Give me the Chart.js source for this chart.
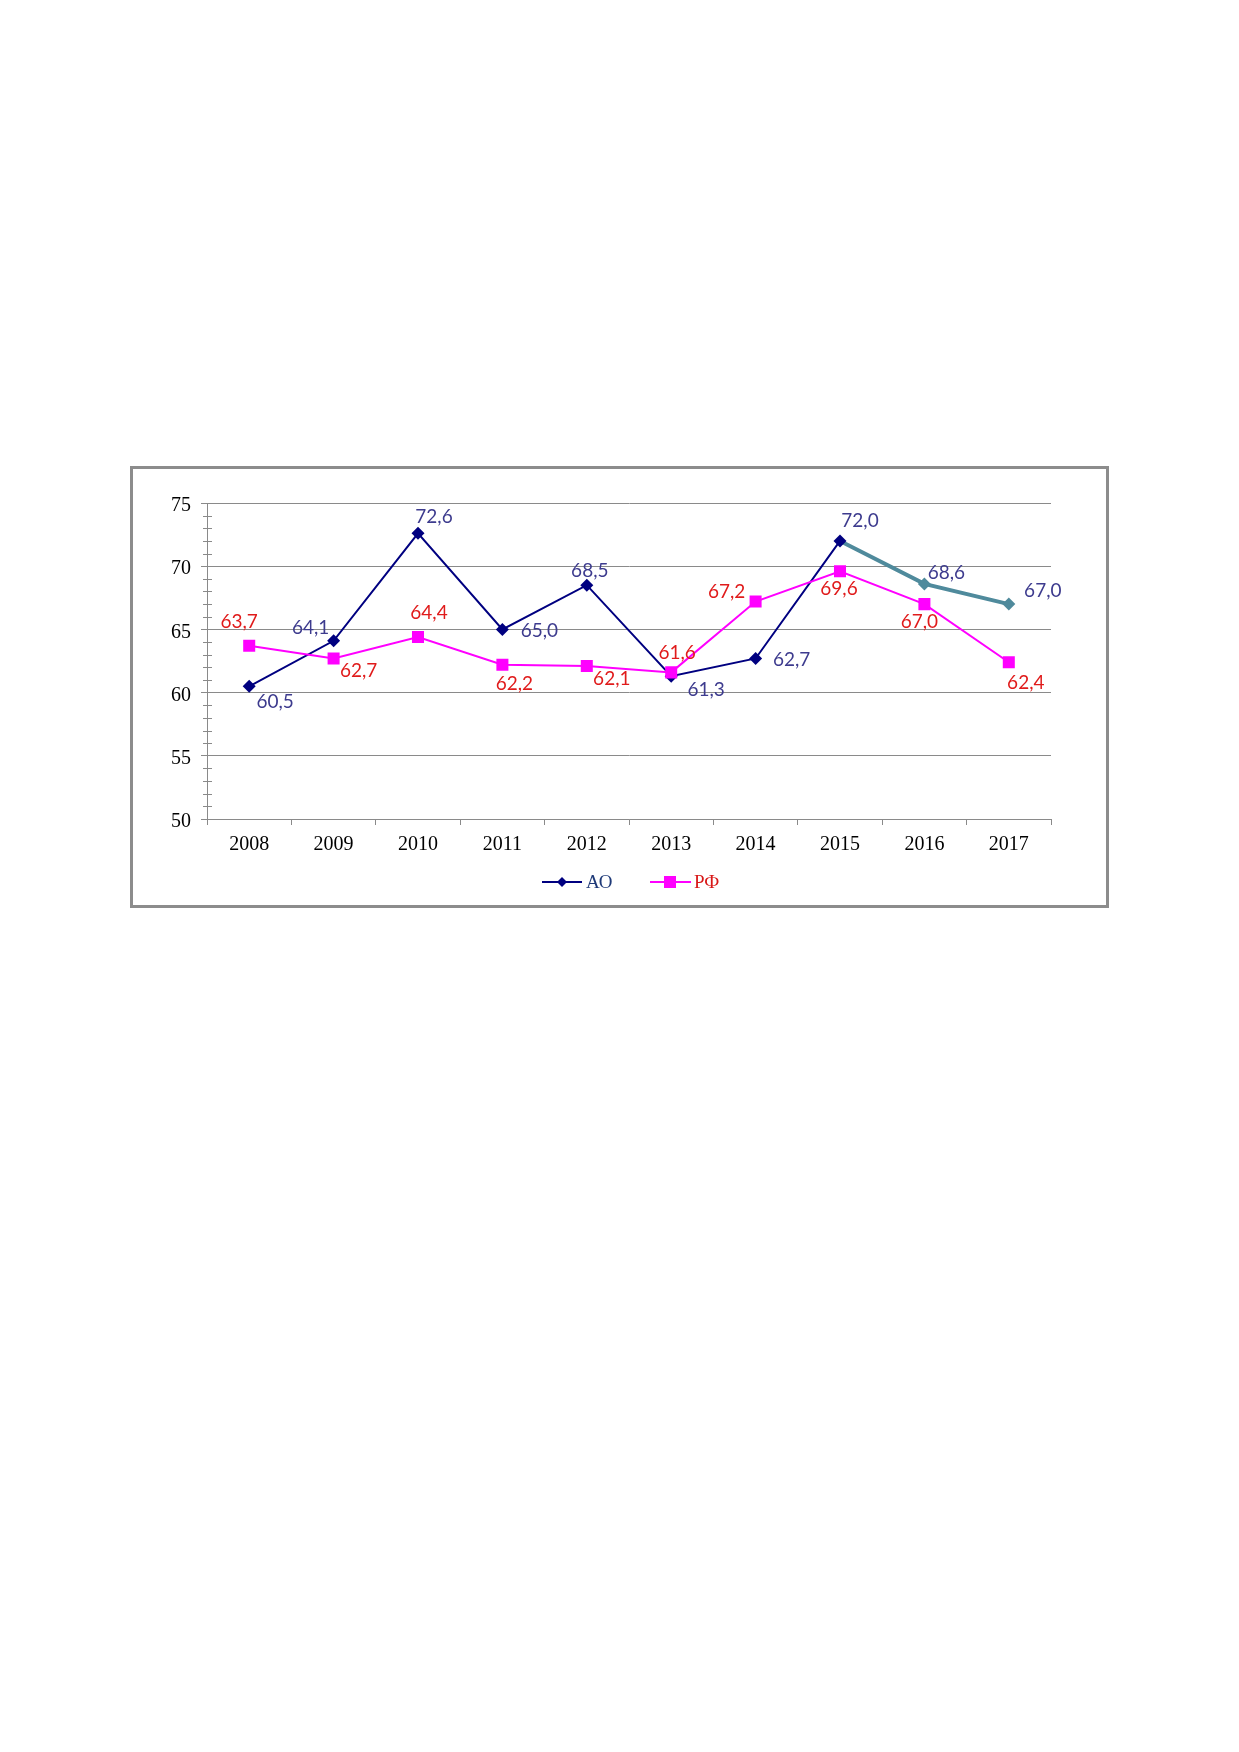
<!DOCTYPE html>
<html>
<head>
<meta charset="utf-8">
<script src="https://cdn.jsdelivr.net/npm/chart.js@4"></script>
<style>
  html, body { margin: 0; padding: 0; background: #fff; }
  body { width: 1239px; height: 1752px; position: relative; }
  #frame {
    position: absolute; left: 130px; top: 466px;
    width: 979px; height: 442px; box-sizing: border-box;
    border: 3px solid #8c8c8c;
  }
  #myChart { position: absolute; left: 131px; top: 467px; }
</style>
</head>
<body>
<div id="frame"></div>
<canvas id="myChart" width="976" height="439"></canvas>
<script>
let years = ['2008', '2009', '2010', '2011', '2012', '2013', '2014', '2015', '2016', '2017'];
let aoValues = [60.5, 64.1, 72.6, 65.0, 68.5, 61.3, 62.7, 72.0, 68.6, 67.0];
let rfValues = [63.7, 62.7, 64.4, 62.2, 62.1, 61.6, 67.2, 69.6, 67.0, 62.4];
let yTicks = [50, 55, 60, 65, 70, 75];

// where each value label sits relative to its point
let aoLabelShift = [[26, 16], [-23, -13], [16, -16], [37, 1], [3, -14], [35, 14], [36, 1], [20, -20], [22, -11], [34, -13]];
let rfLabelShift = [[-10, -24], [25, 12], [11, -24], [12, 19], [25, 13], [6, -20], [-29, -10], [-1, 18], [-5, 18], [17, 21]];

let navy = '#000080';
let teal = '#4f8a9c';
let magenta = '#ff00ff';
let gridGray = '#8a8a8a';

let fmt = (v) => v.toFixed(1).replace('.', ',');

let valueLabels = {
    id: 'valueLabels',
    afterDatasetsDraw(chart) {
        let ctx = chart.ctx;
        ctx.save();
        ctx.font = '19px Lato, "Liberation Sans", sans-serif';
        ctx.textAlign = 'center';
        ctx.textBaseline = 'middle';
        chart.data.datasets.forEach((ds, di) => {
            let meta = chart.getDatasetMeta(di);
            let shift = ds.label === 'АО' ? aoLabelShift : rfLabelShift;
            ctx.fillStyle = ds.label === 'АО' ? '#3d3b8e' : '#e01b1b';
            meta.data.forEach((pt, i) => {
                ctx.fillText(fmt(ds.data[i]), pt.x + shift[i][0], pt.y + shift[i][1]);
            });
        });
        ctx.restore();
    }
};

let minorTicks = {
    id: 'minorTicks',
    afterDraw(chart) {
        let y = chart.scales.y;
        let ctx = chart.ctx;
        let x0 = chart.chartArea.left;
        ctx.save();
        ctx.strokeStyle = gridGray;
        ctx.lineWidth = 1;
        for (let v = y.min; v <= y.max; v++) {
            if (v % 5 === 0) continue;
            let py = Math.round(y.getPixelForValue(v)) + 0.5;
            ctx.beginPath();
            ctx.moveTo(x0 - 4, py);
            ctx.lineTo(x0 + 5, py);
            ctx.stroke();
        }
        ctx.restore();
    }
};

let bottomLegend = {
    id: 'bottomLegend',
    afterDraw(chart) {
        let ctx = chart.ctx;
        let area = chart.chartArea;
        let cx = (area.left + area.right) / 2;
        let ly = area.bottom + 63;
        ctx.save();
        ctx.font = '19px "Liberation Serif", serif';
        ctx.textBaseline = 'middle';
        ctx.textAlign = 'left';
        // АО item
        let ax = cx - 87;
        ctx.strokeStyle = navy;
        ctx.lineWidth = 2;
        ctx.beginPath(); ctx.moveTo(ax, ly); ctx.lineTo(ax + 40, ly); ctx.stroke();
        ctx.fillStyle = navy;
        ctx.beginPath();
        ctx.moveTo(ax + 20, ly - 5); ctx.lineTo(ax + 25, ly);
        ctx.lineTo(ax + 20, ly + 5); ctx.lineTo(ax + 15, ly);
        ctx.closePath(); ctx.fill();
        ctx.fillStyle = '#1f3a78';
        ctx.fillText('АО', ax + 44, ly + 1);
        // РФ item
        let rx = cx + 21;
        ctx.strokeStyle = magenta;
        ctx.beginPath(); ctx.moveTo(rx, ly); ctx.lineTo(rx + 41, ly); ctx.stroke();
        ctx.fillStyle = magenta;
        ctx.fillRect(rx + 14, ly - 6, 12, 12);
        ctx.fillStyle = '#d81818';
        ctx.fillText('РФ', rx + 44, ly + 1);
        ctx.restore();
    }
};

let ctx = document.getElementById('myChart').getContext('2d');

let myChart = new Chart(ctx, {
    type: 'line',
    data: {
        labels: years,
        datasets: [{
            label: 'РФ',
            data: rfValues,
            borderColor: magenta,
            backgroundColor: magenta,
            borderWidth: 2,
            pointStyle: 'rect',
            pointRadius: 8.5,
            pointBorderWidth: 0,
            tension: 0,
            order: 0
        }, {
            label: 'АО',
            data: aoValues,
            borderColor: navy,
            backgroundColor: navy,
            borderWidth: 2,
            pointStyle: 'rectRot',
            pointRadius: 6.5,
            pointBorderWidth: 0,
            pointBackgroundColor: aoValues.map((v, i) => i >= 8 ? teal : navy),
            tension: 0,
            order: 1,
            segment: {
                borderColor: (c) => c.p0DataIndex >= 7 ? teal : navy,
                borderWidth: (c) => c.p0DataIndex >= 7 ? 4 : 2
            }
        }]
    },
    options: {
        responsive: false,
        devicePixelRatio: 1,
        animation: false,
        layout: {
            padding: { top: 36, right: 56, bottom: 0, left: 0 }
        },
        plugins: {
            legend: { display: false },
            tooltip: { enabled: false }
        },
        scales: {
            x: {
                offset: true,
                grid: {
                    offset: true,
                    drawOnChartArea: false,
                    color: gridGray,
                    tickLength: 6
                },
                border: { color: gridGray, width: 1 },
                ticks: {
                    color: '#000',
                    font: { family: '"Liberation Serif", serif', size: 20 },
                    padding: 8,
                    maxRotation: 0
                },
                afterFit: (scale) => { scale.height = 87; }
            },
            y: {
                min: 50,
                max: 75,
                afterBuildTicks: (scale) => {
                    scale.ticks = yTicks.map((v) => ({ value: v }));
                },
                grid: {
                    color: gridGray,
                    tickLength: 6
                },
                border: { color: gridGray, width: 1 },
                ticks: {
                    color: '#000',
                    font: { family: '"Liberation Serif", serif', size: 20 },
                    padding: 10,
                    labelOffset: 3
                },
                afterFit: (scale) => { scale.width = 76; }
            }
        }
    },
    plugins: [minorTicks, valueLabels, bottomLegend]
});
</script>
</body>
</html>
